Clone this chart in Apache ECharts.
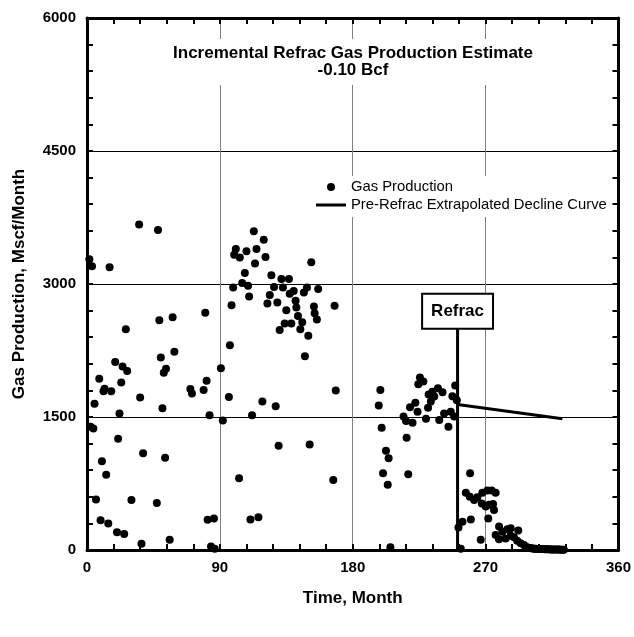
<!DOCTYPE html>
<html>
<head>
<meta charset="utf-8">
<script src="https://cdn.jsdelivr.net/npm/echarts@6/dist/echarts.min.js"></script>
<style>
  html, body { margin: 0; padding: 0; background: #fff; }
  #chart { width: 634px; height: 637px; }
</style>
</head>
<body>
<div id="chart"></div>
<script>
// Monthly gas production (month, Mscf/month)
const prodMonth = [
  1.6, 2.4, 3.4, 4.3, 5.1, 6.1, 8.3, 9.2, 10.1, 11.2, 11.9, 13.0, 14.4, 15.3, 16.4,
  19.1, 20.3, 21.1, 22.0, 23.2, 24.1, 25.2, 26.3, 27.2, 30.1, 35.3, 36.0, 36.9, 38.0,
  47.3, 48.1, 49.0, 50.0, 51.1, 52.0, 52.9, 53.5, 56.0, 58.0, 59.2, 70.0, 71.1, 79.0,
  80.1, 81.0, 81.7, 83.0, 84.0, 86.5, 86.0, 90.7, 92.0, 96.1, 96.8, 97.9, 99.0, 99.7,
  100.8, 103.0, 103.5, 105.1, 106.9, 108.0, 109.1, 109.8, 110.7, 111.8, 113.0, 113.8,
  114.8, 116.1, 118.8, 119.7, 120.9, 122.2, 123.8, 124.9, 126.7, 127.8, 128.9, 129.8,
  130.5, 131.7, 132.7, 133.9, 135.0, 136.8, 137.3, 138.4, 140.0, 141.3, 141.8, 142.9,
  144.5, 145.8, 146.9, 147.6, 149.0, 149.9, 150.8, 151.9, 153.7, 154.2, 155.7, 156.6,
  166.8, 167.7, 168.5,
  197.6, 198.7, 199.6, 200.5, 202.5, 203.7, 204.3, 205.5, 214.4, 216.1, 216.5, 217.6,
  218.8, 220.5, 222.4, 223.9, 224.4, 225.5, 227.8, 229.6, 231.4, 231.0, 232.9, 234.0,
  235.2, 237.7, 238.6, 240.8, 241.9, 244.8, 246.4, 247.5, 248.7, 249.4, 250.5,
  251.6, 253.2, 254.3, 256.6, 259.3, 259.5, 260.0, 262.2, 264.4, 266.7, 267.4, 267.8,
  270.1, 271.2, 271.8, 272.3, 274.1, 275.0, 275.7, 276.8, 276.8, 279.1, 279.1, 281.3,
  283.6, 284.7, 287.0, 287.0, 289.2, 291.4, 292.1, 293.7, 296.0,
  297, 298, 299, 300, 301, 302, 303, 304, 305, 306, 307, 308, 309, 310, 311, 312, 313,
  314, 315, 316, 317, 318, 319, 320, 321, 322, 323
];
const prodGas = [
  3280, 1390, 3200, 1370, 1650, 570, 1930, 335, 1000, 1790, 1820, 850, 300, 3190, 1790,
  2120, 200, 1255, 1540, 1890, 2070, 180, 2490, 2020, 565, 3670, 1720, 70, 1090,
  530, 3610, 2590, 2170, 1600, 2000, 1040, 2045, 115, 2625, 2235, 1815, 1765, 1805,
  2675, 1910, 340, 1520, 40, 15, 355, 2050, 1460, 1725, 2310, 2760, 2960, 3330,
  3395, 810, 3300, 3010, 3125, 3370, 2980, 2860, 345, 1520, 3595, 3230,
  3395, 370, 1675, 3500, 3305, 2780, 2875, 3100, 2965, 1620, 2790, 1175,
  2480, 3055, 2960, 2555, 2705, 3055, 2890, 2555, 2920, 2810, 2735, 2640,
  2490, 2570, 2905, 2185, 2960, 2415, 1190, 3245, 2745, 2670, 2600, 2945,
  790, 2755, 1800,
  1630, 1805, 1380, 865, 1120, 735, 1035, 30, 1505, 1455, 1265, 855,
  1610, 1435, 1660, 1560, 1870, 1945, 1900, 1480, 1755, 1605, 1675, 1785,
  1730, 1825, 1465, 1780, 1540, 1390, 1560, 1735, 1505, 1855, 1690,
  255, 15, 320, 645, 600, 865, 345, 565, 595, 115, 525, 645,
  490, 670, 355, 510, 670, 520, 450, 645, 170, 265, 120, 205,
  130, 235, 245, 160, 145, 105, 220, 75, 55,
  38, 30, 25, 22, 20, 18, 15, 15, 12, 12, 10, 10, 10, 8, 8, 8, 8,
  6, 6, 6, 5, 5, 5, 5, 4, 4, 4
];

// Pre-refrac extrapolated decline curve
const declineMonth = [251, 322];
const declineGas = [1640, 1480];

// Refrac event marker
const refracMonth = 251;
const refracGas = [0, 2500];

// Axis settings
const xTicks = { min: 0, max: 360, interval: 90 };
const yTicks = { min: 0, max: 6000, interval: 1500 };

const FONT = '"Liberation Sans", Arial, Helvetica, sans-serif';

const prodData = prodMonth.map((m, i) => [m, prodGas[i]]);
const declineData = declineMonth.map((m, i) => [m, declineGas[i]]);
const refracData = refracGas.map(g => [refracMonth, g]);

function boxAxis(base, opts) {
  return Object.assign({
    type: 'value',
    min: base.min,
    max: base.max,
    interval: base.interval,
    axisLine: { show: true, onZero: false, lineStyle: { color: '#000', width: 3 } },
    axisTick: { show: true, inside: true, length: 6, lineStyle: { color: '#000', width: 2 } },
    minorTick: { show: true, splitNumber: 5, length: 6, lineStyle: { color: '#000', width: 2 } },
    axisLabel: { show: false },
    splitLine: { show: false }
  }, opts);
}

const chart = echarts.init(document.getElementById('chart'), null, { renderer: 'canvas' });
chart.setOption({
  animation: false,
  backgroundColor: '#fff',
  textStyle: { fontFamily: FONT },
  title: {
    text: 'Incremental Refrac Gas Production Estimate\n-0.10 Bcf',
    left: 347,
    top: 39,
    textAlign: 'center',
    padding: [6, 6, 6, 6],
    backgroundColor: '#fff',
    textStyle: { fontFamily: FONT, fontSize: 17, fontWeight: 'bold', color: '#000', lineHeight: 17 }
  },
  legend: {
    data: [
      { name: 'Gas Production', icon: 'circle' },
      { name: 'Pre-Refrac Extrapolated Decline Curve', icon: 'path://M0,0H30V3H0Z' }
    ],
    orient: 'vertical',
    left: 310,
    top: 176,
    padding: [3, 3, 4, 6],
    backgroundColor: '#fff',
    itemWidth: 30,
    itemHeight: 8,
    itemGap: 2,
    symbolKeepAspect: true,
    textStyle: { fontFamily: FONT, fontSize: 14.8, color: '#000', lineHeight: 16 }
  },
  grid: { left: 87, right: 14, top: 18, bottom: 87, containLabel: false },
  xAxis: [
    boxAxis(xTicks, {
      position: 'bottom',
      name: 'Time, Month',
      nameLocation: 'middle',
      nameGap: 40,
      nameTextStyle: { fontFamily: FONT, fontSize: 17, fontWeight: 'bold', color: '#000' },
      axisLabel: { show: true, margin: 10, fontFamily: FONT, fontSize: 15, fontWeight: 'bold', color: '#000' },
      splitLine: { show: true, lineStyle: { color: '#7f7f7f', width: 1 } }
    }),
    boxAxis(xTicks, { position: 'top' })
  ],
  yAxis: [
    boxAxis(yTicks, {
      position: 'left',
      name: 'Gas Production, Mscf/Month',
      nameLocation: 'middle',
      nameGap: 59,
      nameTextStyle: { fontFamily: FONT, fontSize: 17, fontWeight: 'bold', color: '#000' },
      axisLabel: {
        show: true, margin: 11, fontFamily: FONT, fontSize: 15, fontWeight: 'bold', color: '#000',
        formatter: v => String(v)
      },
      splitLine: { show: true, lineStyle: { color: '#000', width: 1 } }
    }),
    boxAxis(yTicks, { position: 'right' })
  ],
  series: [
    {
      name: 'Gas Production',
      type: 'scatter',
      data: prodData,
      symbol: 'circle',
      symbolSize: 8,
      itemStyle: { color: '#000', opacity: 1 },
      z: 5
    },
    {
      name: 'Pre-Refrac Extrapolated Decline Curve',
      type: 'line',
      data: declineData,
      showSymbol: false,
      symbol: 'none',
      lineStyle: { color: '#000', width: 3 },
      itemStyle: { color: '#000' },
      z: 4
    },
    {
      name: 'Refrac',
      type: 'line',
      data: refracData,
      showSymbol: false,
      symbol: 'none',
      lineStyle: { color: '#000', width: 3 },
      z: 4
    },
    {
      name: 'Refrac label',
      type: 'scatter',
      data: [refracData[1]],
      symbolSize: 1,
      itemStyle: { color: 'rgba(0,0,0,0)', opacity: 1 },
      silent: true,
      label: {
        show: true,
        position: 'top',
        distance: 0,
        formatter: 'Refrac',
        fontFamily: FONT,
        fontSize: 17,
        fontWeight: 'bold',
        color: '#000',
        lineHeight: 19,
        backgroundColor: '#fff',
        borderColor: '#000',
        borderWidth: 2,
        padding: [7, 8, 7, 8]
      },
      z: 6
    }
  ]
});
</script>
</body>
</html>
